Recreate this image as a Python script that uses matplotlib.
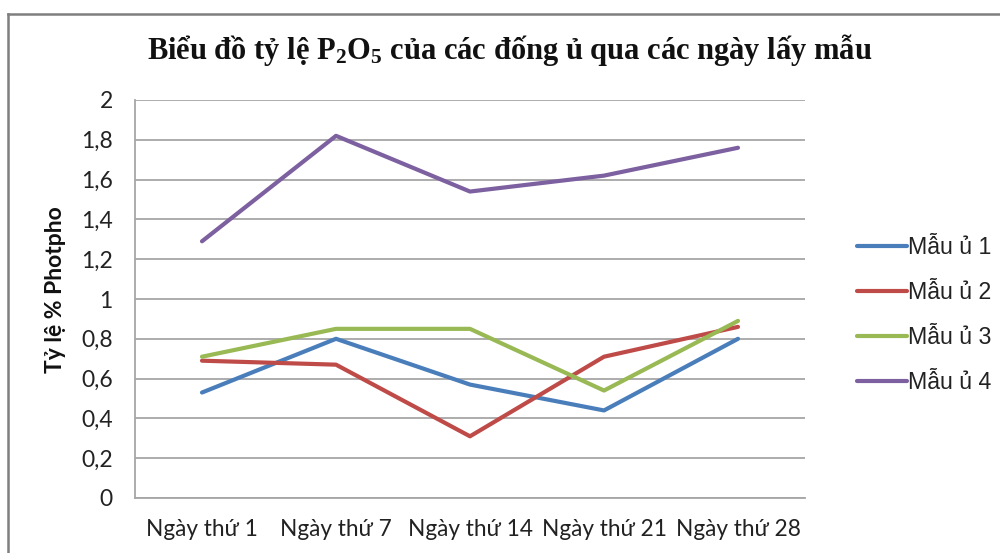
import matplotlib
matplotlib.use("Agg")
import matplotlib.pyplot as plt
from matplotlib.lines import Line2D

categories = ["Ngày thứ 1", "Ngày thứ 7", "Ngày thứ 14", "Ngày thứ 21", "Ngày thứ 28"]
series_names = ["Mẫu ủ 1", "Mẫu ủ 2", "Mẫu ủ 3", "Mẫu ủ 4"]
mau1 = [0.53, 0.80, 0.57, 0.44, 0.80]
mau2 = [0.69, 0.67, 0.31, 0.71, 0.86]
mau3 = [0.71, 0.85, 0.85, 0.54, 0.89]
mau4 = [1.29, 1.82, 1.54, 1.62, 1.76]
yticks = [0, 0.2, 0.4, 0.6, 0.8, 1.0, 1.2, 1.4, 1.6, 1.8, 2.0]
ytick_labels = ["0", "0,2", "0,4", "0,6", "0,8", "1", "1,2", "1,4", "1,6", "1,8", "2"]
colors = ["#4A7EBB", "#BE4B48", "#98B954", "#7D60A0"]

plt.rcParams['mathtext.fontset'] = 'custom'
plt.rcParams['mathtext.rm'] = 'Liberation Serif:bold'
plt.rcParams['mathtext.it'] = 'Liberation Serif:bold:italic'
plt.rcParams['mathtext.bf'] = 'Liberation Serif:bold'

W, H = 1000, 553
fig = plt.figure(figsize=(W / 100, H / 100), dpi=100)
fig.patch.set_facecolor("white")

ax = fig.add_axes([135 / W, (H - 498) / H, 670 / W, 398 / H])
x = list(range(len(categories)))
for vals, name, c in zip([mau1, mau2, mau3, mau4], series_names, colors):
    ax.plot(x, vals, color=c, lw=3.0, label=name, solid_capstyle='round', solid_joinstyle='round', zorder=3)

ax.set_xlim(-0.5, len(categories) - 0.5)
ax.set_ylim(0, 2)
ax.set_yticks(yticks)
ax.set_yticklabels(ytick_labels, family=["Lato", "DejaVu Sans"], fontsize=16.5, color="#222222")
ax.set_xticks(x)
ax.set_xticklabels(categories, family=["Lato", "DejaVu Sans"], fontsize=16.3, color="#222222")
ax.tick_params(axis='y', length=0, pad=16)
ax.tick_params(axis='x', length=0, pad=15)
ax.grid(axis='y', color="#A6A6A6", lw=1.3, zorder=0)
for s in ["top", "right"]:
    ax.spines[s].set_visible(False)
for s in ["left", "bottom"]:
    ax.spines[s].set_color("#A6A6A6")
    ax.spines[s].set_linewidth(1.3)

fig.text(55 / W, 1 - 290 / H, "Tỷ lệ % Photpho", rotation=90, ha='center', va='center',
         fontsize=16.5, fontweight='bold', family=["Lato", "DejaVu Sans"], color="#111111")

fig.text(510 / W, 1 - 50 / H, "Biểu đồ tỷ lệ P$_{2}$O$_{5}$ của các đống ủ qua các ngày lấy mẫu",
         ha='center', va='center', fontsize=22, fontweight='bold',
         family=["Liberation Serif", "DejaVu Serif"], color="#111111")

leg = fig.legend(loc='center left', bbox_to_anchor=(836 / W, 1 - 315 / H), frameon=False,
                 handlelength=2.15, handletextpad=0.05, labelspacing=0.95,
                 prop={'family': ["Liberation Sans", "DejaVu Sans"], 'size': 16.7})
for t in leg.get_texts():
    t.set_color("#222222")

# chart border (Excel chart area frame)
fig.add_artist(Line2D([8 / W, 8 / W], [0, 1 - 14 / H], transform=fig.transFigure, color="#7F7F7F", lw=1.8))
fig.add_artist(Line2D([8 / W, 1], [1 - 14 / H, 1 - 14 / H], transform=fig.transFigure, color="#7F7F7F", lw=1.8))

fig.savefig("out.png", dpi=100)
